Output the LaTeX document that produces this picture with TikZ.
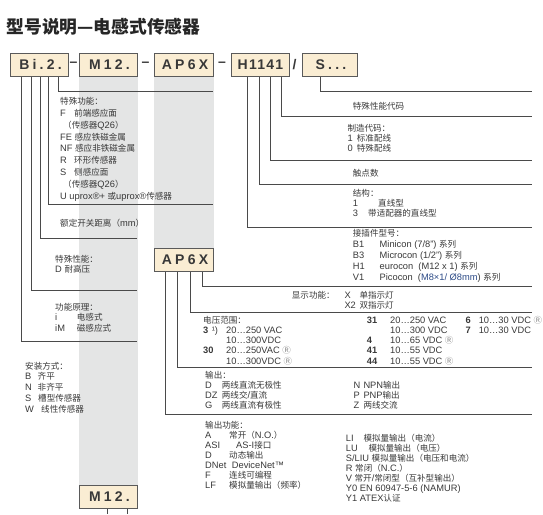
\documentclass[tikz,border=0pt]{standalone}
\usepackage{fontspec}
\setmainfont{Liberation Sans}
\newfontfamily\cjkfont{Noto Sans CJK SC}[Scale=0.92]
\newfontfamily\codefont{Liberation Sans}[LetterSpace=23]
\newfontfamily\codefontn{Liberation Sans}[LetterSpace=9]
\newfontfamily\regfont{Noto Sans CJK SC}
% switch to the CJK font for Chinese characters
\XeTeXinterchartokenstate=1
\newXeTeXintercharclass\cjkclass
\newcount\cjkc
\def\setcjkrange#1#2{\cjkc=#1\relax
  \loop\XeTeXcharclass\cjkc=\cjkclass
  \ifnum\cjkc<#2\advance\cjkc by 1\repeat}
\setcjkrange{"3000}{"303F}
\setcjkrange{"4E00}{"9FFF}
\setcjkrange{"FF00}{"FFEF}
\XeTeXcharclass"2014=\cjkclass
\XeTeXinterchartoks 0 \cjkclass={\cjkfont}
\XeTeXinterchartoks 4095 \cjkclass={\cjkfont}
\XeTeXinterchartoks \cjkclass 0={\rmfamily}
\XeTeXinterchartoks \cjkclass 4095={\rmfamily}
\usetikzlibrary{backgrounds}
\definecolor{cbox}{HTML}{FAEDD3}
\definecolor{cboxline}{HTML}{5A5A5A}
\definecolor{cband}{HTML}{E4E5E5}
\definecolor{cline}{HTML}{4A4A4A}
\definecolor{ctext}{HTML}{383838}
\definecolor{cblue}{HTML}{2C4A86}
\definecolor{creg}{HTML}{8A8A8A}
\newcommand\regR{{\fontsize{8.5}{9}\regfont\color{creg}Ⓡ}}
\tikzset{
  code/.style={draw=cboxline, fill=cbox, line width=1pt, minimum width=58pt, minimum height=23pt,
    inner sep=0pt, text=ctext, font={\fontsize{14}{16}\codefont\bfseries}},
  sep/.style={inner sep=0pt, text=ctext, font={\fontsize{14}{16}\selectfont\bfseries}},
  lead/.style={draw=cline, line width=0.9pt},
  % multi-line labels: placed at the baseline of their last line
  lbl/.style={anchor=base west, inner sep=0pt, align=left, text=ctext, font={\fontsize{9.3}{#1}\selectfont}},
  lbl/.default=10,
  title/.style={anchor=base west, inner sep=0pt, text=black!85, font={\fontsize{19.3}{20}\cjkfont\bfseries}},
}

\begin{document}
\begin{tikzpicture}[x=1pt, y=-1pt]
  \useasboundingbox (0,0) rectangle (543,514);
  \node[title] (title) at (6.5,33.7) {型号说明—电感式传感器};

  % code boxes
  \node[code] (bi) at (39,64.5) {\hspace*{3pt}Bi.2.};
  \node[sep] (d1) at (73.5,64.5) {–};
  \node[code] (mtop) at (108,64.5) {\hspace*{3pt}M12.};
  \node[sep] (d2) at (145.5,64.5) {–};
  \node[code, minimum width=59pt] (ap) at (183.5,64.5) {\hspace*{3pt}AP6X};
  \node[sep] (d3) at (222,64.5) {–};
  \node[code, font={\fontsize{14}{16}\codefontn\bfseries}] (h) at (260,64.5) {\hspace*{1pt}H1141};
  \node[sep] (sl) at (294.5,64.5) {/};
  \node[code, minimum width=55pt] (s) at (329.5,64.5) {\hspace*{3pt}S...};
  \node[code, minimum width=59pt] (ap2) at (183.5,259.5) {\hspace*{3pt}AP6X};
  \node[code] (mbot) at (108,497) {\hspace*{3pt}M12.};

  % ends of the leaders
  \coordinate (bB) at (137,341);
  \coordinate (bi1) at (137,290.7);
  \coordinate (bp1) at (137,238);
  \coordinate (b2) at (213,204);
  \coordinate (bp2) at (213,91.7);
  \coordinate (hH) at (532,227.3);
  \coordinate (h1) at (532,184);
  \coordinate (h2) at (532,160.7);
  \coordinate (h3) at (532,116);
  \coordinate (sS) at (532,91.7);
  \coordinate (aX) at (532,286);
  \coordinate (a6) at (532,312.5);
  \coordinate (aP) at (532,367);
  \coordinate (aA) at (532,414);
  \coordinate (m1) at (107,514);
  \coordinate (m2) at (127,514);

  \begin{scope}[on background layer]
    \fill[cband] (mtop.south west) rectangle (mbot.north east);
    \fill[cband] (ap.south west) rectangle (ap2.north east);
    \draw[lead] ([xshift=-17.3pt]bi.south) |- (bB);
    \draw[lead] ([xshift=-7.3pt]bi.south) |- (bi1);
    \draw[lead] ([xshift=1pt]bi.south) |- (bp1);
    \draw[lead] ([xshift=9.3pt]bi.south) |- (b2);
    \draw[lead] ([xshift=19.3pt]bi.south) |- (bp2);
    \draw[lead] ([xshift=-12.3pt]h.south) |- (hH);
    \draw[lead] ([xshift=-1pt]h.south) |- (h1);
    \draw[lead] ([xshift=10pt]h.south) |- (h2);
    \draw[lead] ([xshift=21pt]h.south) |- (h3);
    \draw[lead] ([xshift=-8.8pt]s.south) |- (sS);
    \draw[lead] ([xshift=19pt]ap2.south) |- (aX);
    \draw[lead] ([xshift=7.2pt]ap2.south) |- (a6);
    \draw[lead] ([xshift=-6.2pt]ap2.south) |- (aP);
    \draw[lead] ([xshift=-18.5pt]ap2.south) |- (aA);
    \draw[lead] (m1 |- mbot.south) -- (m1);
    \draw[lead] (m2 |- mbot.south) -- (m2);
  \end{scope}

  % Bi.2.
  \node[lbl=11.9] (sfunc) at (60,199.5) {特殊功能：\\
    \makebox[14pt][l]{F}前端感应面\\
    \hspace*{3pt}（传感器Q26）\\
    FE 感应铁磁金属\\
    NF 感应非铁磁金属\\
    \makebox[14pt][l]{R}环形传感器\\
    \makebox[14pt][l]{S}侧感应面\\
    \hspace*{3pt}（传感器Q26）\\
    U uprox®+ 或uprox®传感器};
  \node[lbl] (rdist) at (60,226.3) {额定开关距离（mm）};
  \node[lbl=10.3] (sperf) at (55,272.6) {特殊性能：\\D 耐高压};
  \node[lbl=10.7] (fprin) at (55,331.4) {功能原理：\\
    \makebox[21.7pt][l]{i}电感式\\
    \makebox[21.7pt][l]{iM}磁感应式};
  \node[lbl=10.8] (mount) at (25,412.2) {安装方式：\\
    \makebox[12.5pt][l]{B}齐平\\
    \makebox[12.5pt][l]{N}非齐平\\
    \makebox[13pt][l]{S}槽型传感器\\
    \makebox[16pt][l]{W}线性传感器};

  % H1141 / S...
  \node[lbl] (scode) at (352.7,109.3) {特殊性能代码};
  \node[lbl] (mcode) at (347.3,151) {制造代码：\\
    \makebox[9.4pt][l]{1}标准配线\\
    \makebox[9.4pt][l]{0}特殊配线};
  \node[lbl] (ncont) at (352.7,176) {触点数};
  \node[lbl] (struct) at (352.7,216.3) {结构：\\
    \makebox[25.3pt][l]{1}直线型\\
    \makebox[15.3pt][l]{3}带适配器的直线型};
  \node[lbl=11] (conn) at (352.7,280) {接插件型号：\\
    \makebox[26.8pt][l]{B1}Minicon (7/8") 系列\\
    \makebox[26.8pt][l]{B3}Microcon (1/2") 系列\\
    \makebox[26.8pt][l]{H1}eurocon\ \ (M12 x 1) 系列\\
    \makebox[26.8pt][l]{V1}Picocon\ \ ({\color{cblue}M8×1/ Ø8mm}) 系列};

  % AP6X
  \node[lbl] (disp) at (291.7,308.3) {\makebox[52.6pt][l]{显示功能：}\makebox[15pt][l]{X}单指示灯\\
    \hspace*{52.6pt}\makebox[15pt][l]{X2}双指示灯};
  \node[lbl=10.2] (volt) at (203,364.1) {\makebox[163.7pt][l]{电压范围：}\makebox[23.3pt][l]{\textbf{31}}\makebox[75.3pt][l]{20…250 VAC}\makebox[13.3pt][l]{\textbf{6}}10…30 VDC \regR\\
    \makebox[8.7pt][l]{\textbf{3}}\makebox[14.3pt][l]{¹)}\makebox[140.7pt][l]{20…250 VAC}\makebox[23.3pt][l]{}\makebox[75.3pt][l]{10…300 VDC}\makebox[13.3pt][l]{\textbf{7}}10…30 VDC\\
    \hspace*{23pt}\makebox[140.7pt][l]{10…300VDC}\makebox[23.3pt][l]{\textbf{4}}10…65 VDC \regR\\
    \makebox[23pt][l]{\textbf{30}}\makebox[140.7pt][l]{20…250VAC \regR}\makebox[23.3pt][l]{\textbf{41}}10…55 VDC\\
    \hspace*{23pt}\makebox[140.7pt][l]{10…300VDC \regR}\makebox[23.3pt][l]{\textbf{44}}10…55 VDC \regR};
  \node[lbl] (outp) at (205,408.3) {输出：\\
    \makebox[16.7pt][l]{D}\makebox[131.6pt][l]{两线直流无极性}\makebox[10pt][l]{N}NPN输出\\
    \makebox[16.7pt][l]{DZ}\makebox[131.6pt][l]{两线交/直流}\makebox[10pt][l]{P}PNP输出\\
    \makebox[16.7pt][l]{G}\makebox[131.6pt][l]{两线直流有极性}\makebox[10pt][l]{Z}两线交流};
  \node[lbl] (ofunc) at (205,488.3) {输出功能：\\
    \makebox[24pt][l]{A}常开（N.O.）\\
    \makebox[31pt][l]{ASI}AS-I接口\\
    \makebox[24pt][l]{D}动态输出\\
    \makebox[26.7pt][l]{DNet}DeviceNet™\\
    \makebox[24pt][l]{F}连线可编程\\
    \makebox[24pt][l]{LF}模拟量输出（频率）};
  \node[lbl] (ofunc2) at (345.7,501.6) {\makebox[17.6pt][l]{LI}模拟量输出（电流）\\
    \makebox[22.6pt][l]{LU}模拟量输出（电压）\\
    S/LIU 模拟量输出（电压和电流）\\
    R 常闭（N.C.）\\
    V 常开/常闭型（互补型输出）\\
    Y0 EN 60947-5-6 (NAMUR)\\
    Y1 ATEX认证};
\end{tikzpicture}
\end{document}
